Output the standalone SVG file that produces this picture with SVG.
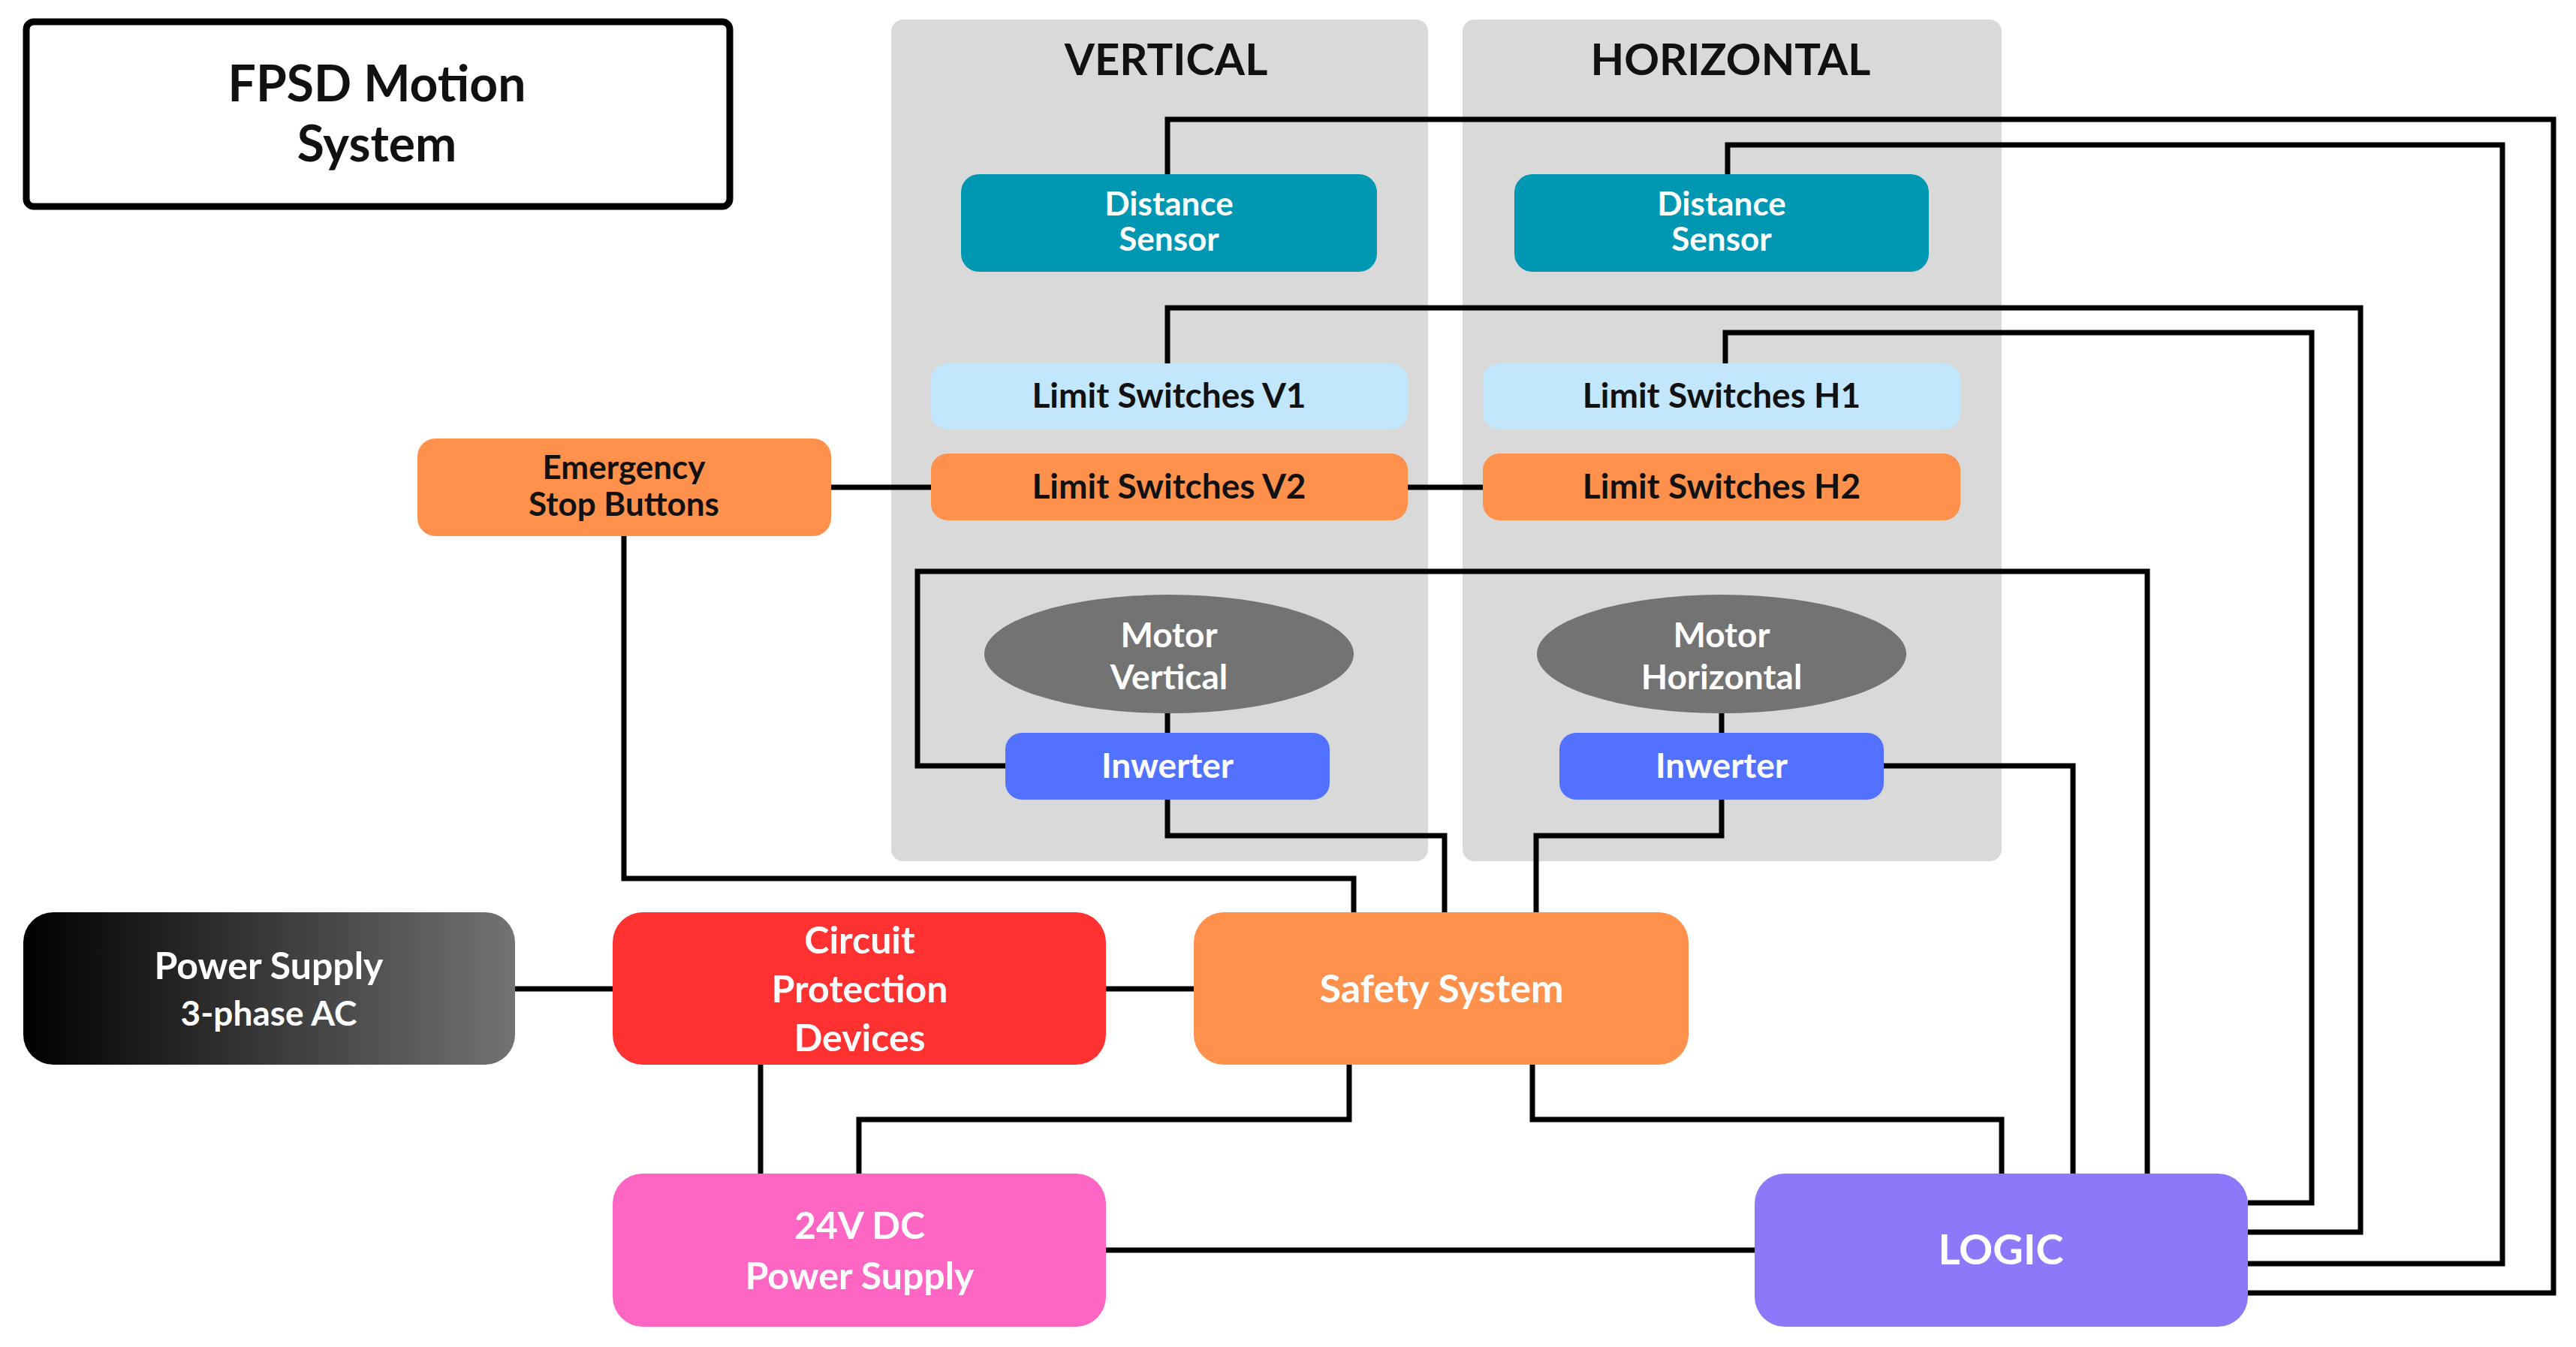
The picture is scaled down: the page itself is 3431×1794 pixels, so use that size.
<svg xmlns="http://www.w3.org/2000/svg" width="3431" height="1794" viewBox="0 0 3431 1794">
<style>
.t{font-family:Lato,"Open Sans",sans-serif;font-weight:bold;text-anchor:middle}
.w{fill:#fff}.k{fill:#111}
.c{fill:none;stroke:#000;stroke-width:7;stroke-linejoin:miter}
</style>
<defs><linearGradient id="g" x1="0" x2="1"><stop offset="0" stop-color="#000"/><stop offset="1" stop-color="#737373"/></linearGradient></defs>
<rect width="3431" height="1794" fill="#fff"/>
<g id="title"><rect x="35" y="29" width="937" height="246" rx="10" fill="#fff" stroke="#000" stroke-width="9"/>
<text class="t k" x="502" y="135" font-size="66" font-family="'Open Sans',sans-serif">FPSD Motion</text>
<text class="t k" x="502" y="215" font-size="66" font-family="'Open Sans',sans-serif">System</text></g>
<g id="panel-vertical"><rect x="1187" y="26" width="715" height="1121" rx="16" fill="#d9d9d9"/><text class="t k" x="1553" y="100" font-size="58">VERTICAL</text></g>
<g id="panel-horizontal"><rect x="1948" y="26" width="718" height="1121" rx="16" fill="#d9d9d9"/><text class="t k" x="2305" y="100" font-size="58">HORIZONTAL</text></g>
<g id="connectors">
<path class="c" d="M1555 232V159H3401V1722H2994"/>
<path class="c" d="M2301 232V193H3333V1683H2994"/>
<path class="c" d="M1555 484V410H3144V1641H2994"/>
<path class="c" d="M2298 484V443H3079V1602H2994"/>
<path class="c" d="M1339 1020H1222V761H2860V1563"/>
<path class="c" d="M2509 1020H2761V1563"/>
<path class="c" d="M1555 950V976M2293 950V976"/>
<path class="c" d="M1555 1065V1113H1924V1215"/>
<path class="c" d="M2293 1065V1113H2046V1215"/>
<path class="c" d="M831 714V1170H1803V1215"/>
<path class="c" d="M1107 649H1240M1875 649H1975"/>
<path class="c" d="M686 1317H816M1473 1317H1590"/>
<path class="c" d="M1013 1418V1563"/>
<path class="c" d="M1144 1563V1491H1797V1418"/>
<path class="c" d="M2041 1418V1491H2666V1563"/>
<path class="c" d="M1473 1665H2337"/>
</g>
<g id="dist-v"><rect x="1280" y="232" width="554" height="130" rx="24" fill="#0097b2"/><text class="t w" x="1557" y="287" font-size="44">Distance</text><text class="t w" x="1557" y="334" font-size="44">Sensor</text></g>
<g id="dist-h"><rect x="2017" y="232" width="552" height="130" rx="24" fill="#0097b2"/><text class="t w" x="2293" y="287" font-size="44">Distance</text><text class="t w" x="2293" y="334" font-size="44">Sensor</text></g>
<g id="ls-v1"><rect x="1240" y="484" width="635" height="88" rx="22" fill="#c2e6fc"/><text class="t k" x="1557" y="543" font-size="46">Limit Switches V1</text></g>
<g id="ls-h1"><rect x="1975" y="484" width="636" height="88" rx="22" fill="#c2e6fc"/><text class="t k" x="2293" y="543" font-size="46">Limit Switches H1</text></g>
<g id="ls-v2"><rect x="1240" y="604" width="635" height="89" rx="22" fill="#ff914d"/><text class="t k" x="1557" y="664" font-size="46">Limit Switches V2</text></g>
<g id="ls-h2"><rect x="1975" y="604" width="636" height="89" rx="22" fill="#ff914d"/><text class="t k" x="2293" y="664" font-size="46">Limit Switches H2</text></g>
<g id="estop"><rect x="556" y="584" width="551" height="130" rx="24" fill="#ff914d"/><text class="t k" x="831" y="638" font-size="44">Emergency</text><text class="t k" x="831" y="687" font-size="44">Stop Buttons</text></g>
<g id="motor-v"><ellipse cx="1557" cy="871" rx="246" ry="79" fill="#737373"/><text class="t w" x="1557" y="862" font-size="46">Motor</text><text class="t w" x="1557" y="918" font-size="46">Vertical</text></g>
<g id="motor-h"><ellipse cx="2293" cy="871" rx="246" ry="79" fill="#737373"/><text class="t w" x="2293" y="862" font-size="46">Motor</text><text class="t w" x="2293" y="918" font-size="46">Horizontal</text></g>
<g id="inv-v"><rect x="1339" y="976" width="432" height="89" rx="22" fill="#5271ff"/><text class="t w" x="1555" y="1036" font-size="46">Inwerter</text></g>
<g id="inv-h"><rect x="2077" y="976" width="432" height="89" rx="22" fill="#5271ff"/><text class="t w" x="2293" y="1036" font-size="46">Inwerter</text></g>
<g id="ps-ac"><rect x="31" y="1215" width="655" height="203" rx="40" fill="url(#g)"/><text class="t w" x="358" y="1304" font-size="50">Power Supply</text><text class="t w" x="358" y="1366" font-size="46">3-phase AC</text></g>
<g id="cpd"><rect x="816" y="1215" width="657" height="203" rx="40" fill="#ff3131"/><text class="t w" x="1145" y="1270" font-size="50">Circuit</text><text class="t w" x="1145" y="1335" font-size="50">Protection</text><text class="t w" x="1145" y="1400" font-size="50">Devices</text></g>
<g id="safety"><rect x="1590" y="1215" width="659" height="203" rx="40" fill="#ff914d"/><text class="t w" x="1920" y="1335" font-size="52">Safety System</text></g>
<g id="dc24"><rect x="816" y="1563" width="657" height="204" rx="40" fill="#ff66c4"/><text class="t w" x="1145" y="1650" font-size="50">24V DC</text><text class="t w" x="1145" y="1717" font-size="50">Power Supply</text></g>
<g id="logic"><rect x="2337" y="1563" width="657" height="204" rx="40" fill="#8c78f8"/><text class="t w" x="2665" y="1684" font-size="56">LOGIC</text></g>
</svg>
